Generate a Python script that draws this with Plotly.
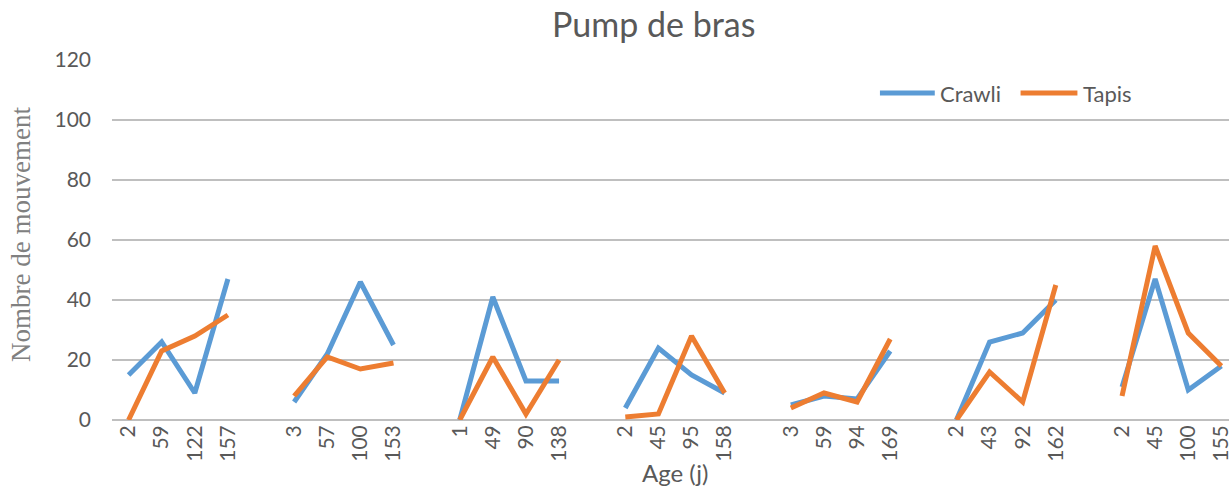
import plotly.graph_objects as go

# Ages (days) for each of the seven groups
ages = [
    ["2", "59", "122", "157"],
    ["3", "57", "100", "153"],
    ["1", "49", "90", "138"],
    ["2", "45", "95", "158"],
    ["3", "59", "94", "169"],
    ["2", "43", "92", "162"],
    ["2", "45", "100", "155"],
]

crawli = [
    [15, 26, 9, 47],
    [6, 22, 46, 25],
    [0, 41, 13, 13],
    [4, 24, 15, 9],
    [5, 8, 7, 23],
    [0, 26, 29, 40],
    [11, 47, 10, 18],
]

tapis = [
    [0, 23, 28, 35],
    [8, 21, 17, 19],
    [0, 21, 2, 20],
    [1, 2, 28, 9],
    [4, 9, 6, 27],
    [0, 16, 6, 45],
    [8, 58, 29, 18],
]

y_ticks = [0, 20, 40, 60, 80, 100, 120]

# Flatten groups, leaving one empty slot between groups so the lines break
xpos, labels, ys_c, ys_t = [], [], [], []
pos = 0
for g, (a, c, t) in enumerate(zip(ages, crawli, tapis)):
    if g > 0:
        xpos.append(pos)
        ys_c.append(None)
        ys_t.append(None)
        pos += 1
    for lab, vc, vt in zip(a, c, t):
        xpos.append(pos)
        labels.append(lab)
        ys_c.append(vc)
        ys_t.append(vt)
        pos += 1

tick_pos = [p for p, v in zip(xpos, ys_c) if v is not None]

BLUE = "#5B9BD5"
ORANGE = "#ED7D31"
GREY_TXT = "#595959"
FONT = "Lato, Open Sans, sans-serif"

fig = go.Figure()
fig.add_trace(go.Scatter(x=xpos, y=ys_c, mode="lines", name="Crawli",
                         line=dict(color=BLUE, width=5), connectgaps=False,
                         showlegend=False))
fig.add_trace(go.Scatter(x=xpos, y=ys_t, mode="lines", name="Tapis",
                         line=dict(color=ORANGE, width=5), connectgaps=False,
                         showlegend=False))

# Legend drawn as line samples + labels in the top-right corner
legend_y = 0.908
legend_items = [("Crawli", BLUE, 0.6875, 0.7366), ("Tapis", ORANGE, 0.8134, 0.8643)]
shapes, annotations = [], []
for name, col, x0, x1 in legend_items:
    shapes.append(dict(type="line", xref="paper", yref="paper", x0=x0, x1=x1,
                       y0=legend_y, y1=legend_y, line=dict(color=col, width=5)))
    annotations.append(dict(text=name, xref="paper", yref="paper", x=x1 + 0.003, y=legend_y,
                            xanchor="left", yanchor="middle", showarrow=False,
                            font=dict(family=FONT, size=22, color=GREY_TXT)))

annotations += [
    dict(text="Pump de bras", xref="paper", yref="paper", x=0.485, y=1.1,
         xanchor="center", yanchor="middle", showarrow=False,
         font=dict(family=FONT, size=34, color=GREY_TXT)),
    dict(text="Nombre de mouvement", xref="paper", yref="paper", x=-0.082, y=0.515,
         xanchor="center", yanchor="middle", showarrow=False, textangle=-90,
         font=dict(family="Liberation Serif, Times New Roman, serif", size=27, color="#808080")),
    dict(text="Age (j)", xref="paper", yref="paper", x=0.504, y=-0.147,
         xanchor="center", yanchor="middle", showarrow=False,
         font=dict(family=FONT, size=24, color=GREY_TXT)),
]

fig.update_layout(
    width=1232, height=487,
    margin=dict(l=112, r=0, t=60, b=67),
    paper_bgcolor="white", plot_bgcolor="white",
    font=dict(family=FONT, color=GREY_TXT, size=21),
    showlegend=False,
    shapes=shapes,
    annotations=annotations,
    xaxis=dict(
        range=[-0.5, 33.23],
        tickmode="array", tickvals=tick_pos, ticktext=labels,
        tickangle=-90, tickfont=dict(size=21, color=GREY_TXT),
        ticklabeloverflow="allow",
        showgrid=False, zeroline=False, showline=False, ticks="",
    ),
    yaxis=dict(
        range=[0, 120], tickvals=y_ticks,
        tickfont=dict(size=21, color=GREY_TXT),
        showgrid=True, gridcolor="#BFBFBF", gridwidth=1.5,
        zeroline=True, zerolinecolor="#BFBFBF", zerolinewidth=1.5,
        showline=False, ticks="", ticklabelstandoff=20,
    ),
)

fig.write_html("out.html")
